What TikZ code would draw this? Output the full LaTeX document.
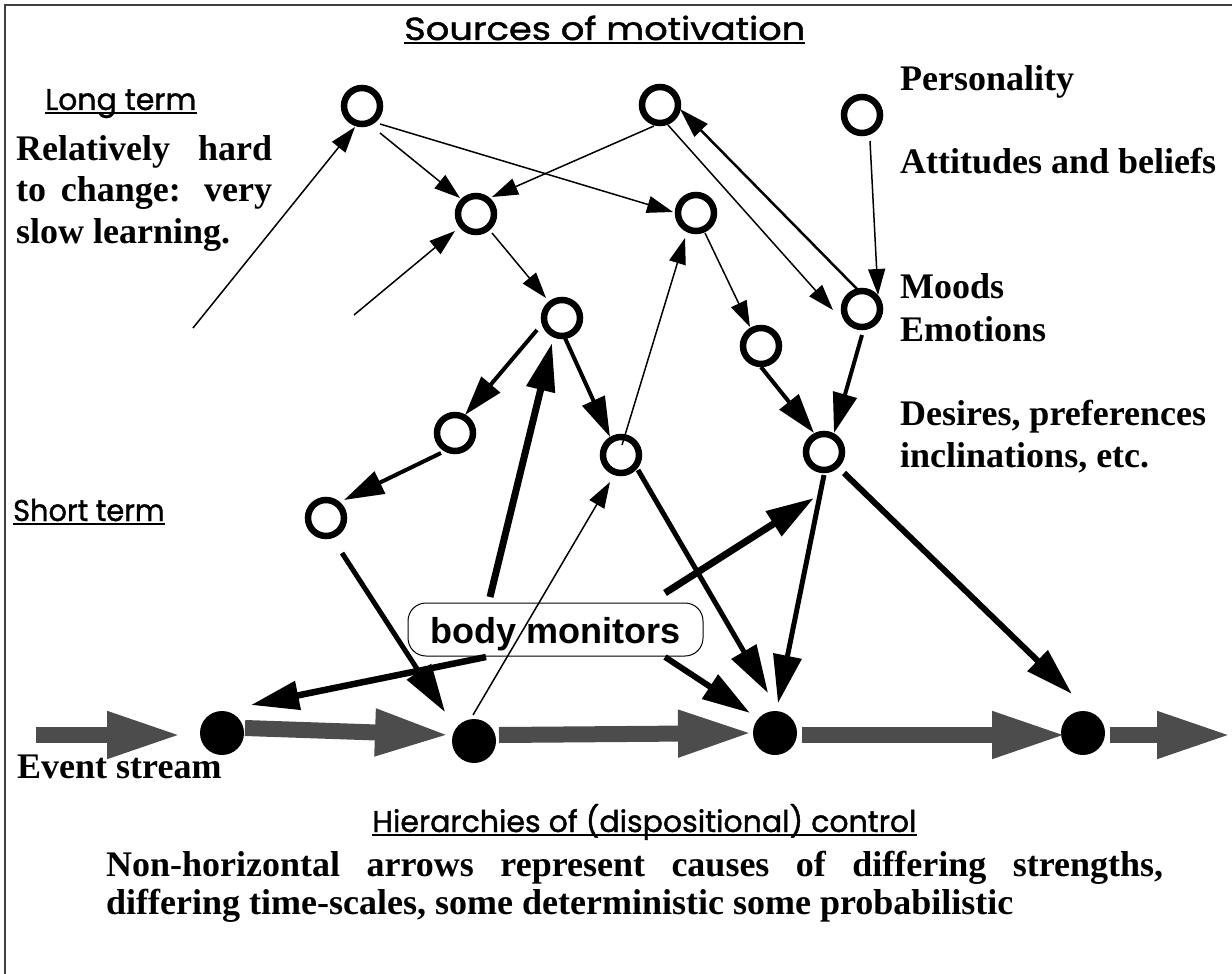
\documentclass[tikz,border=0pt]{standalone}
\usepackage{fontspec}
\setmainfont{Liberation Serif}
\newfontfamily\gothic[FakeBold=1.3]{Poppins}
\newfontfamily\arialb{Liberation Sans}
\usetikzlibrary{arrows.meta,calc}

\begin{document}
\begin{tikzpicture}[x=1pt,y=-1pt,
  ring/.style={circle,draw=black,line width=6.5pt,minimum size=36pt,inner sep=0pt},
  event/.style={circle,fill=black,minimum size=44pt,inner sep=0pt},
  monitor/.style={draw=black,line width=1pt,rounded corners=18pt,fill=white,
    minimum width=295pt,minimum height=53pt,inner sep=0pt,
    text height=34pt,text depth=7pt,
    font=\arialb\bfseries\fontsize{36}{40}\selectfont},
  gflow/.style={draw=black!70,line width=16pt,-{Triangle[length=75pt,width=43pt]}},
  lnthin/.style={line width=1.5pt,-{Triangle[length=26pt,width=17pt]}},
  lnback/.style={line width=2.5pt,-{Triangle[length=30pt,width=18pt]}},
  lnmid/.style={line width=4pt,-{Triangle[length=40pt,width=24pt]}},
  lnbold/.style={-{Triangle[length=48pt,width=28pt]}},
  serif/.style={font=\fontsize{36}{42}\selectfont\bfseries,inner sep=0pt,anchor=base west},
  heading/.style={font=\gothic\fontsize{30}{36}\selectfont,inner sep=0pt,anchor=base west},
  uline/.style={line width=2pt}
]
\useasboundingbox (0,0) rectangle (1232,974);

% frame
\draw[black!75,line width=1.5pt] (5,974) -- (5,5) -- (1232,5);

% dispositional states
\node[ring] (A) at (362,106) {};
\node[ring] (B) at (660,105) {};
\node[ring] (C) at (862,115) {};
\node[ring] (D) at (476,214) {};
\node[ring] (E) at (696,213) {};
\node[ring] (F) at (862,309) {};
\node[ring] (G) at (562,318) {};
\node[ring] (H) at (761,346) {};
\node[ring] (I) at (455,433) {};
\node[ring] (J) at (621,455) {};
\node[ring] (K) at (824,452) {};
\node[ring] (L) at (326,518) {};

% events
\node[event] (d1) at (222,733) {};
\node[event] (d2) at (474,741) {};
\node[event] (d3) at (775,733) {};
\node[event] (d4) at (1083,733) {};

\node[monitor] (bm) at (555.5,629.5) {body monitors};

\coordinate (s0) at (36,735);
\coordinate (s1) at (193,328);
\coordinate (s2) at (354,315);
\coordinate (s5) at (1232,735);

% event stream
\draw[gflow] (s0) -- ($(d1)+(-40,2)$);
\draw[gflow] ($(d1)+(23,-5)$) -- ($(d2)+(-24,-6)$);
\draw[gflow] ($(d2)+(25,-6)$) -- ($(d3)+(-22,0)$);
\draw[gflow] ($(d3)+(27,2)$) -- ($(d4)+(-16,2)$);
\draw[gflow] ($(d4)+(27,2)$) -- (s5);

% weak influences
\draw[lnthin] (s1) -- ($(A)+(-7,21)$);
\draw[lnthin] (s2) -- ($(D)+(-21,17)$);
\draw[lnthin] ($(A)+(18,27)$) -- ($(D)+(-16,-16)$);
\draw[lnthin] ($(A)+(18,18)$) -- ($(E)+(-23,-1)$);
\draw[lnthin] ($(B)+(-6,21)$) -- ($(D)+(16,-17)$);
\draw[lnthin] ($(D)+(16,19)$) -- ($(G)+(-16,-20)$);
\draw[lnthin] ($(B)+(8,20)$) -- ($(F)+(-29,1)$);
\draw[lnthin] ($(C)+(8,26)$) -- ($(F)+(16,-14)$);
\draw[lnthin] ($(E)+(9,20)$) -- ($(H)+(-11,-19)$);
\draw[lnthin] ($(J)+(1,-10)$) -- ($(E)+(-11,25)$);
\draw[lnthin] ($(d2)+(-1,-26)$) -- ($(J)+(-11,27)$);
\draw[lnback] ($(F)+(-4,-19)$) -- ($(B)+(20,4)$);

% medium influences
\draw[lnmid] ($(G)+(-25,12)$) -- ($(I)+(10,-18)$);
\draw[lnmid] ($(I)+(-14,20)$) -- ($(L)+(18,-18)$);
\draw[lnmid] ($(G)+(3,20)$) -- ($(J)+(-11,-18)$);
\draw[lnmid] ($(H)+(0,21)$) -- ($(K)+(-10,-19)$);
\draw[lnmid] ($(F)+(0,26)$) -- ($(K)+(10,-19)$);

% strong influences
\draw[lnbold,line width=7pt] ($(bm)+(-65.5,-32.5)$) -- ($(G)+(-10,25)$);
\draw[lnbold,line width=5pt] ($(L)+(16,35)$) -- ($(d2)+(-29,-29)$);
\draw[lnbold,line width=6.5pt] ($(bm)+(-69.5,27.5)$) -- ($(d1)+(29,-28)$);
\draw[lnbold,line width=6pt] ($(bm)+(109.5,27.5)$) -- ($(d3)+(-25,-20)$);
\draw[lnbold,line width=5pt] ($(J)+(17,15)$) -- ($(d3)+(-7,-40)$);
\draw[lnbold,line width=5pt] ($(K)+(0,23)$) -- ($(d3)+(3,-30)$);
\draw[lnbold,line width=7pt] ($(bm)+(109.5,-36.5)$) -- ($(K)+(-10,46)$);
\draw[lnbold,line width=6pt] ($(K)+(20,21)$) -- ($(d4)+(-11,-39)$);

% headings
\node[heading] (src) at (404,40) {\scalebox{1.15}[1]{\fontsize{32}{36}\selectfont Sources of motivation}};
\node[heading] (lt) at (45,110) {Long term};
\node[heading] (st) at (13,521) {\scalebox{0.96}[1]{Short term}};
\node[heading] (hier) at (372,832) {Hierarchies of (dispositional) control};
\foreach \h in {src,lt,st,hier}
  \draw[uline] ([yshift=-3pt]\h.base west) -- ([yshift=-3pt]\h.base east);

% descriptions
\node[serif] (t1) at (16,160) {\makebox[256pt][s]{Relatively hard}};
\node[serif] (t2) at (16,201) {\makebox[256pt][s]{to change: very}};
\node[serif] (t3) at (16,243) {slow learning.};
\node[serif] (pers) at (900,90) {Personality};
\node[serif] (att) at (900,173) {Attitudes and beliefs};
\node[serif] (moods) at (900,298) {Moods};
\node[serif] (emo) at (900,341) {Emotions};
\node[serif] (des) at (900,425) {Desires, preferences};
\node[serif] (incl) at (900,467) {inclinations, etc.};
\node[serif] (ev) at (17,778) {Event stream};
\node[serif] (n1) at (106,876) {\makebox[1057pt][s]{Non-horizontal arrows represent causes of differing strengths,}};
\node[serif] (n2) at (106,914) {differing time-scales, some deterministic some probabilistic};
\end{tikzpicture}
\end{document}
